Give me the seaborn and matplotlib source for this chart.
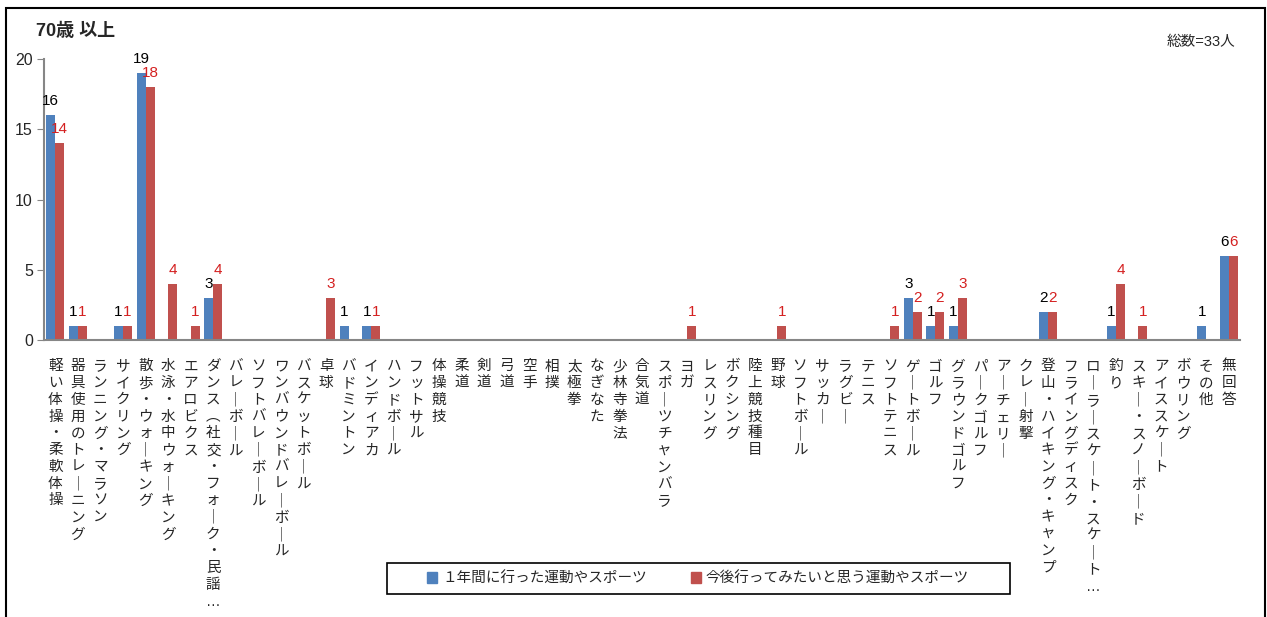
import pandas as pd
import seaborn as sns
import matplotlib.pyplot as plt
from matplotlib.patches import Rectangle

categories = [
    "軽い体操・柔軟体操", "器具使用のトレーニング", "ランニング・マラソン", "サイクリング",
    "散歩・ウォーキング", "水泳・水中ウォーキング", "エアロビクス", "ダンス︵社交・フォーク・民謡…",
    "バレーボール", "ソフトバレーボール", "ワンバウンドバレーボール", "バスケットボール",
    "卓球", "バドミントン", "インディアカ", "ハンドボール", "フットサル", "体操競技",
    "柔道", "剣道", "弓道", "空手", "相撲", "太極拳", "なぎなた", "少林寺拳法", "合気道",
    "スポーツチャンバラ", "ヨガ", "レスリング", "ボクシング", "陸上競技種目", "野球",
    "ソフトボール", "サッカー", "ラグビー", "テニス", "ソフトテニス", "ゲートボール",
    "ゴルフ", "グラウンドゴルフ", "パークゴルフ", "アーチェリー", "クレー射撃",
    "登山・ハイキング・キャンプ", "フライングディスク", "ローラースケート・スケート…",
    "釣り", "スキー・スノーボード", "アイススケート", "ボウリング", "その他", "無回答",
]

# 1年間に行った運動やスポーツ
done = [16, 1, 0, 1, 19, 0, 0, 3, 0, 0, 0, 0, 0, 1, 1, 0, 0, 0, 0, 0, 0, 0, 0, 0, 0, 0, 0,
        0, 0, 0, 0, 0, 0, 0, 0, 0, 0, 0, 3, 1, 1, 0, 0, 0, 2, 0, 0, 1, 0, 0, 0, 1, 6]
# 今後行ってみたいと思う運動やスポーツ
want = [14, 1, 0, 1, 18, 4, 1, 4, 0, 0, 0, 0, 3, 0, 1, 0, 0, 0, 0, 0, 0, 0, 0, 0, 0, 0, 0,
        0, 1, 0, 0, 0, 1, 0, 0, 0, 0, 1, 2, 2, 3, 0, 0, 0, 2, 0, 0, 4, 1, 0, 0, 0, 6]

series = ["１年間に行った運動やスポーツ", "今後行ってみたいと思う運動やスポーツ"]

df = pd.DataFrame({
    "種目": categories * 2,
    "人数": done + want,
    "区分": [series[0]] * len(categories) + [series[1]] * len(categories),
})

sns.set_style("white")
plt.rcParams['font.family'] = ['Liberation Sans', 'Noto Sans CJK JP', 'DejaVu Sans']

fig = plt.figure(figsize=(12.67, 6.17), dpi=100)
ax = fig.add_axes([44 / 1267, 1 - 340 / 617, (1240 - 44) / 1267, (340 - 59) / 617])

sns.barplot(data=df, x="種目", y="人数", hue="区分", order=categories,
            palette=["#4F81BD", "#C0504D"], width=0.8, saturation=1,
            linewidth=0, ax=ax, legend=False)

# データラベル(0は表示しない)
label_colors = ["black", "#D42020"]
for cont, vals, col in zip(ax.containers, [done, want], label_colors):
    ax.bar_label(cont, labels=[str(v) if v > 0 else "" for v in vals],
                 padding=5, color=col, fontsize=11)

ax.set_ylim(0, 20)
ax.set_xlim(-0.5, len(categories) - 0.5)
ax.set_yticks([0, 5, 10, 15, 20])
ax.set_xlabel("")
ax.set_ylabel("")

# 縦書きラベル
def tate(s):
    return "\n".join(s.replace("ー", "｜"))

ax.set_xticks(range(len(categories)))
ax.set_xticklabels([tate(c) for c in categories], rotation=0, va="top",
                   fontsize=10.5, linespacing=1.25)
ax.tick_params(axis="x", length=0, pad=14)
ax.tick_params(axis="y", length=5, color="#868686", labelsize=11.5, left=True, pad=3)

for s in ["top", "right"]:
    ax.spines[s].set_visible(False)
for s in ["left", "bottom"]:
    ax.spines[s].set_color("#868686")
    ax.spines[s].set_linewidth(1.5)

fig.text(36 / 1267, 1 - 31 / 617, "70歳 以上", fontsize=13, fontweight="bold", va="center")
fig.text(1235 / 1267, 1 - 42 / 617, "総数=33人", fontsize=10.5, ha="right", va="center")

# 凡例
handles = [Rectangle((0, 0), 1, 1, color=c) for c in ["#4F81BD", "#C0504D"]]
fig.legend(handles, series, loc="center", bbox_to_anchor=(698 / 1267, 1 - 578.5 / 617),
           ncol=2, frameon=False, fontsize=10.5, handlelength=0.7, handleheight=0.7,
           handletextpad=0.35, columnspacing=3.0)
fig.patches.append(Rectangle((387 / 1267, 1 - 594 / 617), (1010 - 387) / 1267, 31 / 617,
                             transform=fig.transFigure, fill=False, edgecolor="black",
                             linewidth=1.2))

# 外枠
fig.patches.append(Rectangle((6 / 1267, -0.05), (1265 - 6) / 1267, 1.05 - 8 / 617,
                             transform=fig.transFigure, fill=False, edgecolor="black",
                             linewidth=1.5))

fig.savefig("out.png", dpi=100)
